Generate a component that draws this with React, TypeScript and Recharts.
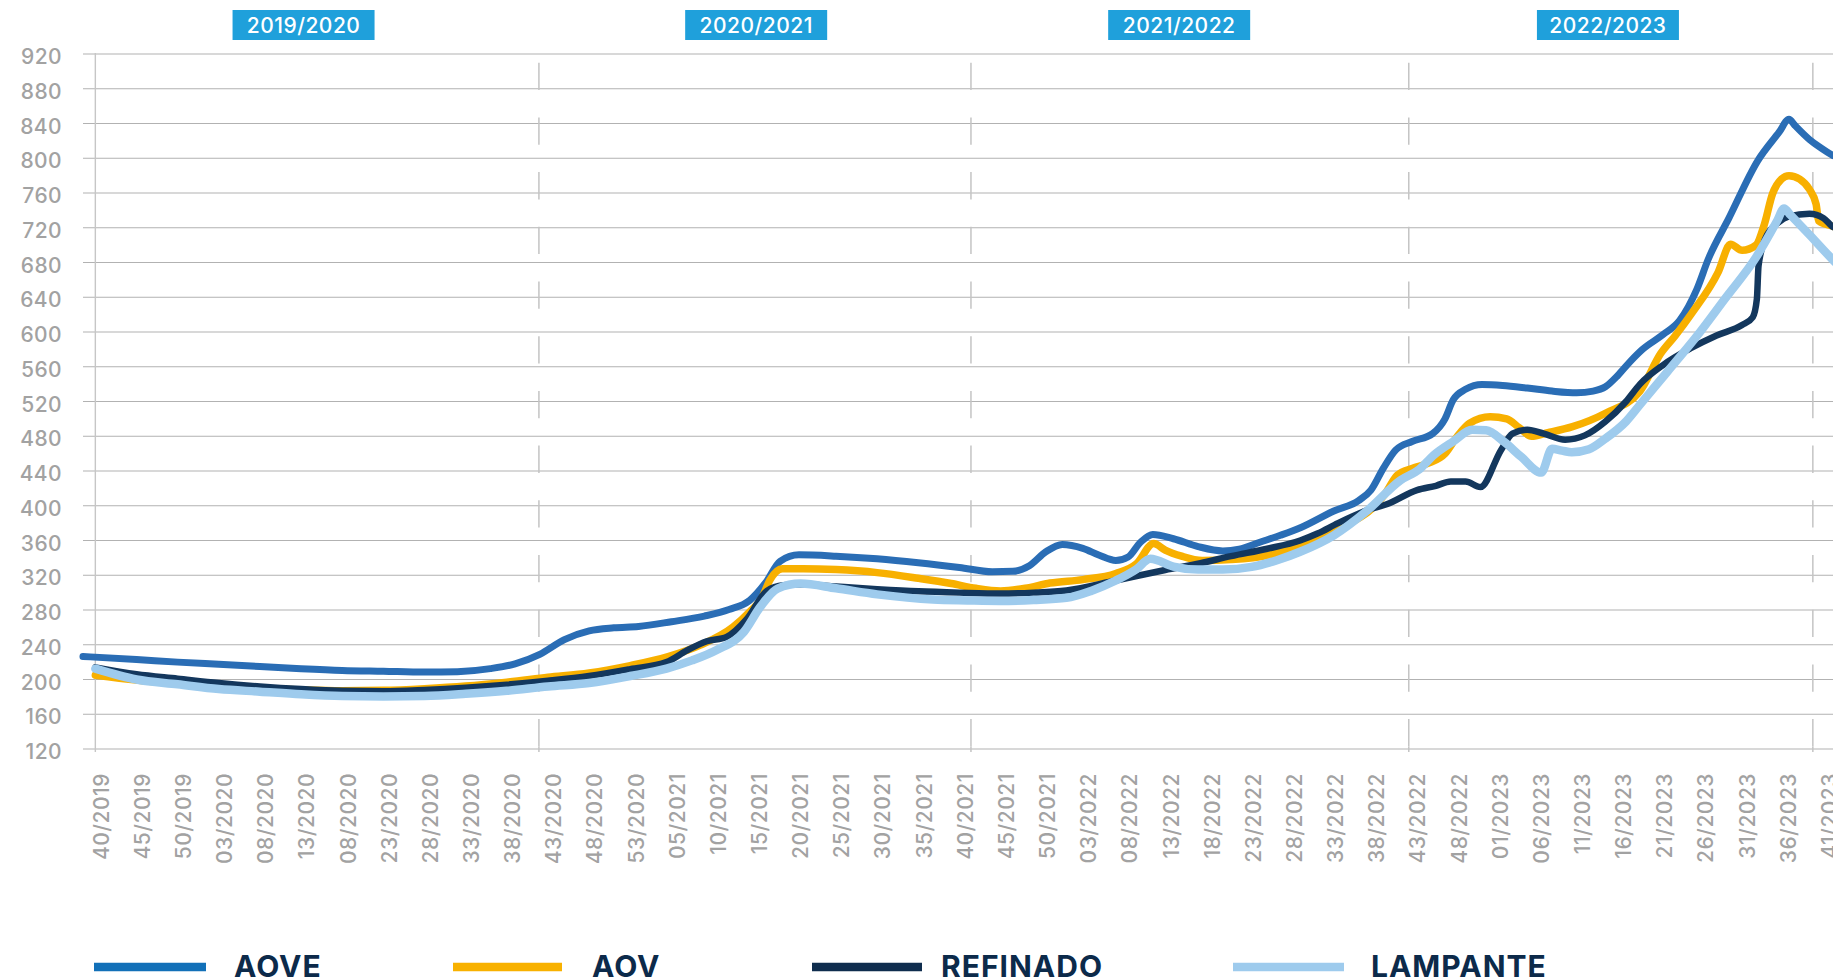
import { CartesianGrid, Line, LineChart, ReferenceLine, XAxis, YAxis } from "recharts";

// Week labels along the x axis, one every 5 weeks (as printed on the original, including the repeated 08/2020)
const TICK_LABELS = [
  "40/2019", "45/2019", "50/2019", "03/2020", "08/2020", "13/2020", "08/2020", "23/2020",
  "28/2020", "33/2020", "38/2020", "43/2020", "48/2020", "53/2020", "05/2021", "10/2021",
  "15/2021", "20/2021", "25/2021", "30/2021", "35/2021", "40/2021", "45/2021", "50/2021",
  "03/2022", "08/2022", "13/2022", "18/2022", "23/2022", "28/2022", "33/2022", "38/2022",
  "43/2022", "48/2022", "01/2023", "06/2023", "11/2023", "16/2023", "21/2023", "26/2023",
  "31/2023", "36/2023", "41/2023",
];
const TICK_WEEKS = TICK_LABELS.map((_, i) => i * 5);
const PRICE_TICKS = [120, 160, 200, 240, 280, 320, 360, 400, 440, 480, 520, 560, 600, 640, 680, 720, 760, 800, 840, 880, 920];

const SEASONS = ["2019/2020", "2020/2021", "2021/2022", "2022/2023"];
const SEASON_CENTERS = [25.3, 80.3, 131.7, 183.8];
const SEASON_BREAKS = [53.9, 106.4, 159.6, 208.7];

// weeks counted from 40/2019
const AOVE_WEEKS = [
  -1.5, 5, 10, 15, 20, 25, 30, 35, 40, 44, 48, 51, 54, 57, 60, 63, 66, 70, 74, 77,
  79.5, 81.5, 83.2, 85.5, 90, 95, 100, 105, 109, 111.5, 113.5, 115.5, 117.5, 120, 122, 124, 125.5, 127, 128.5, 131,
  134, 137, 139, 141.5, 144, 146.5, 150.5, 153.5, 155, 156.5, 158, 160, 162.5, 164, 165, 166.5, 168.5, 171, 174, 177,
  180, 182, 183.5, 185, 186.5, 188, 190.5, 192.5, 194.6, 196, 198.5, 202, 204.6, 205.8, 206.5, 208.3, 209.5, 211, 212,
];
const AOVE_PRICES = [
  226.5, 223, 220, 217.5, 215, 212.5, 210.5, 209.5, 208.5, 209, 212.5, 218, 229, 246, 256, 259.5, 261, 266.5, 273, 280.5,
  291, 312, 336, 343.5, 342, 339, 334.5, 329, 324, 324.5, 331, 347, 355.5, 351, 343, 337, 341, 358, 367, 362,
  353, 348, 350, 358, 366, 375, 394, 406, 418, 443, 464, 474, 483, 500, 522, 534, 539.5, 538.5, 535.5, 532,
  530, 532, 537, 550, 566, 580, 597, 613, 649, 684, 731, 797, 830, 845, 838, 821.5, 813, 804, 800,
];

const AOV_WEEKS = [
  0, 5, 10, 15, 20, 25, 30, 35, 40, 45, 50, 55, 60, 65, 69.5, 73.5, 77.5, 79.5, 81, 82,
  83.5, 86, 90, 95, 100, 104, 107, 110, 113, 116, 120, 124, 126.5, 128.6, 130, 132, 134.5, 138, 142.5, 146.5,
  150.5, 153, 154.6, 156.6, 158.2, 160, 162, 164, 165.5, 167, 169.5, 171.5, 173, 174.5, 176.5, 179.5, 183.5, 187.7, 190.2, 192,
  194, 197.2, 198.7, 200.1, 201.8, 202.8, 203.8, 204.9, 205.8, 207.1, 208.3, 209.1, 209.4, 211, 212,
];
const AOV_PRICES = [
  205, 199.5, 195.3, 192, 189.8, 188, 187, 187.5, 189.5, 192.5, 197, 202.5, 207.5, 216, 226, 239.5, 260.5, 278, 294, 315,
  327.5, 327.5, 326.5, 323, 316.5, 310.5, 305, 302, 305, 311, 315, 322, 333, 356.5, 349, 342, 337, 338, 343, 356,
  371.5, 383, 392.5, 412, 435, 443, 449, 460, 480, 495, 502.5, 500, 490, 480, 484, 491, 506.5, 532, 575, 596,
  621.7, 669, 701, 694, 700, 723.6, 759, 776, 780, 776, 764, 747, 728, 722, 719,
];

const REF_WEEKS = [
  0, 5, 10, 15, 20, 25, 30, 35, 40, 45, 50, 55, 60, 65, 69.4, 71.9, 74.3, 76.7, 79.2, 81.6,
  83.6, 86, 90, 95, 100, 105, 110, 114, 118, 124, 130, 134.3, 138, 142.4, 146.4, 148.5, 151, 154.6, 157, 160.6,
  162.9, 164.7, 166.5, 168.3, 170.8, 172.2, 174, 176, 178.6, 181, 183.5, 186, 187.7, 190.5, 193.8, 197, 200.1, 201.4, 201.9, 202.1,
  202.9, 204.5, 205.8, 208.3, 210, 211, 212,
];
const REF_PRICES = [
  214, 206, 201, 196, 192, 189, 187, 186.5, 188, 190.5, 194, 198.5, 204, 212, 220, 233.5, 244, 249, 270, 302,
  308.5, 309.5, 307, 304, 301.5, 300, 299, 300, 302.5, 314, 326, 334, 342, 350.5, 360, 368, 380, 395, 402, 418,
  423, 428, 428, 421.5, 464, 483, 487.5, 483, 476, 481, 497, 520, 540, 562, 581, 596, 608, 617, 638, 676,
  707, 726, 733, 736, 731, 722, 717,
];

const LAMP_WEEKS = [
  0, 5, 10, 15, 20, 25, 30, 35, 40, 45, 50, 55, 60, 65, 69.4, 72.5, 75.5, 78.8, 80.8, 82.9,
  85.7, 90, 95, 101.8, 106, 110, 114, 118, 121, 124, 126.5, 128.2, 131, 134, 137, 140.5, 143.5, 146.4, 150.5, 154.6,
  158.6, 160.9, 162.6, 165, 167.3, 169, 171.2, 173.3, 175.7, 177, 178.2, 179.4, 181.5, 183.5, 186, 187.7, 191, 194.5, 198, 201.8,
  204.4, 205.2, 206, 208.3, 211, 212,
];
const LAMP_PRICES = [
  212.5, 200, 194.5, 189, 186, 183, 181, 180.5, 181, 183.5, 187, 192, 196, 204, 212.6, 222, 234, 254.7, 283.5, 304.7,
  310.4, 305, 298, 292, 291, 290.4, 291.5, 294, 302, 314, 327, 339, 330, 326.5, 326.5, 329.6, 337, 347, 366, 394.8,
  429.4, 442, 458, 474, 487.5, 487, 473.4, 456, 438.2, 465.5, 463.5, 461.6, 465, 477.3, 497, 516.4, 554, 594, 638, 686,
  728.6, 742.3, 734.5, 711.8, 684.4, 675,
];

const toPoints = (weeks: number[], prices: number[]) => weeks.map((w, i) => ({ w, v: prices[i] }));

const SERIES = [
  { name: "AOVE", data: toPoints(AOVE_WEEKS, AOVE_PRICES), color: "#2a6db5", legend: "#1270b8", width: 7, lineX: 94, lineEnd: 206, textX: 234 },
  { name: "AOV", data: toPoints(AOV_WEEKS, AOV_PRICES), color: "#f8b000", legend: "#f8b100", width: 7.5, lineX: 453, lineEnd: 562, textX: 592 },
  { name: "REFINADO", data: toPoints(REF_WEEKS, REF_PRICES), color: "#13375d", legend: "#0f2d4e", width: 6.5, lineX: 812, lineEnd: 922, textX: 941 },
  { name: "LAMPANTE", data: toPoints(LAMP_WEEKS, LAMP_PRICES), color: "#9ecbed", legend: "#9ecbed", width: 8.5, lineX: 1233, lineEnd: 1344, textX: 1371 },
];

const FONT = "Inter, 'Open Sans', sans-serif";
const TICK_GRAY = "#a2a2a2";

function WeekTick({ x, y, payload }: any) {
  const label = TICK_LABELS[Math.round(payload.value / 5)];
  const tx = x + 6;
  return (
    <text
      x={tx}
      y={y}
      dy="0.35em"
      transform={`rotate(-90, ${tx}, ${y})`}
      textAnchor="end"
      fill={TICK_GRAY}
      fontSize={21}
      fontWeight={500}
      fontFamily={FONT}
      letterSpacing={0.5}
    >
      {label}
    </text>
  );
}

function PriceTick({ x, y, payload }: any) {
  return (
    <text x={x} y={y + 10} textAnchor="end" fill={TICK_GRAY} fontSize={21} fontWeight={500} fontFamily={FONT} letterSpacing={0.4}>
      {payload.value}
    </text>
  );
}

function SeasonTag({ viewBox, text }: any) {
  const cx = viewBox?.x ?? 0;
  return (
    <g>
      <rect x={cx - 71} y={10} width={142} height={30} fill="#1fa0db" />
      <text x={cx} y={32.8} textAnchor="middle" fill="#ffffff" fontSize={21} fontWeight={500} fontFamily={FONT} letterSpacing={0.5}>
        {text}
      </text>
    </g>
  );
}

// campaign separators: long dashes, starting from the x axis
function SeasonBreak(props: any) {
  const { x1, y1, y2 } = props;
  const top = Math.min(y1, y2);
  const bottom = Math.max(y1, y2);
  return (
    <g>
      <line x1={x1} x2={x1} y1={bottom + 3} y2={bottom - 2.6} stroke="#c4c4c4" strokeWidth={1.5} />
      <line x1={x1} x2={x1} y1={bottom - 2.6} y2={top} stroke="#c4c4c4" strokeWidth={1.5} strokeDasharray="27.3 27.4" />
    </g>
  );
}

function AxisLine(props: any) {
  const { x1, y1, y2 } = props;
  const top = Math.min(y1, y2);
  const bottom = Math.max(y1, y2);
  return <line x1={x1} x2={x1} y1={bottom + 3} y2={top - 1} stroke="#c6c6c6" strokeWidth={1.4} />;
}

function LegendRow() {
  return (
    <svg width={1833} height={979} style={{ position: "absolute", left: 0, top: 0, pointerEvents: "none" }}>
      {SERIES.map((s) => (
        <g key={s.name}>
          <line x1={s.lineX} x2={s.lineEnd} y1={967} y2={967} stroke={s.legend} strokeWidth={8.3} />
          <text x={s.textX} y={977} fill="#0c2a4a" fontSize={30} fontWeight={700} fontFamily={FONT} letterSpacing={1}>
            {s.name}
          </text>
        </g>
      ))}
    </svg>
  );
}

export default function App() {
  return (
    <div style={{ position: "absolute", left: 0, top: 0, width: 1833, height: 979, overflow: "hidden", background: "#ffffff" }}>
      <LineChart width={1860} height={979} margin={{ top: 54, right: 20, bottom: 0, left: 0 }}>
        <CartesianGrid vertical={false} stroke="#b2b2b2" strokeWidth={1.1} />
        <XAxis
          type="number"
          dataKey="w"
          domain={[-1.5, 212]}
          ticks={TICK_WEEKS}
          interval={0}
          height={230}
          axisLine={false}
          tickLine={false}
          tickSize={0}
          tickMargin={24}
          tick={<WeekTick />}
        />
        <YAxis
          type="number"
          domain={[120, 920]}
          ticks={PRICE_TICKS}
          interval={0}
          width={83}
          axisLine={false}
          tickLine={false}
          tickSize={0}
          tickMargin={21}
          tick={<PriceTick />}
        />
        <ReferenceLine x={0} shape={<AxisLine />} />
        {SEASON_BREAKS.map((w) => (
          <ReferenceLine key={`b${w}`} x={w} shape={<SeasonBreak />} />
        ))}
        {SEASONS.map((s, i) => (
          <ReferenceLine key={s} x={SEASON_CENTERS[i]} stroke="none" label={<SeasonTag text={s} />} />
        ))}
        {SERIES.map((s) => (
          <Line
            key={s.name}
            data={s.data}
            dataKey="v"
            name={s.name}
            type="monotone"
            stroke={s.color}
            strokeWidth={s.width}
            strokeLinecap="round"
            strokeLinejoin="round"
            dot={false}
            activeDot={false}
            isAnimationActive={false}
          />
        ))}
      </LineChart>
      <LegendRow />
    </div>
  );
}
